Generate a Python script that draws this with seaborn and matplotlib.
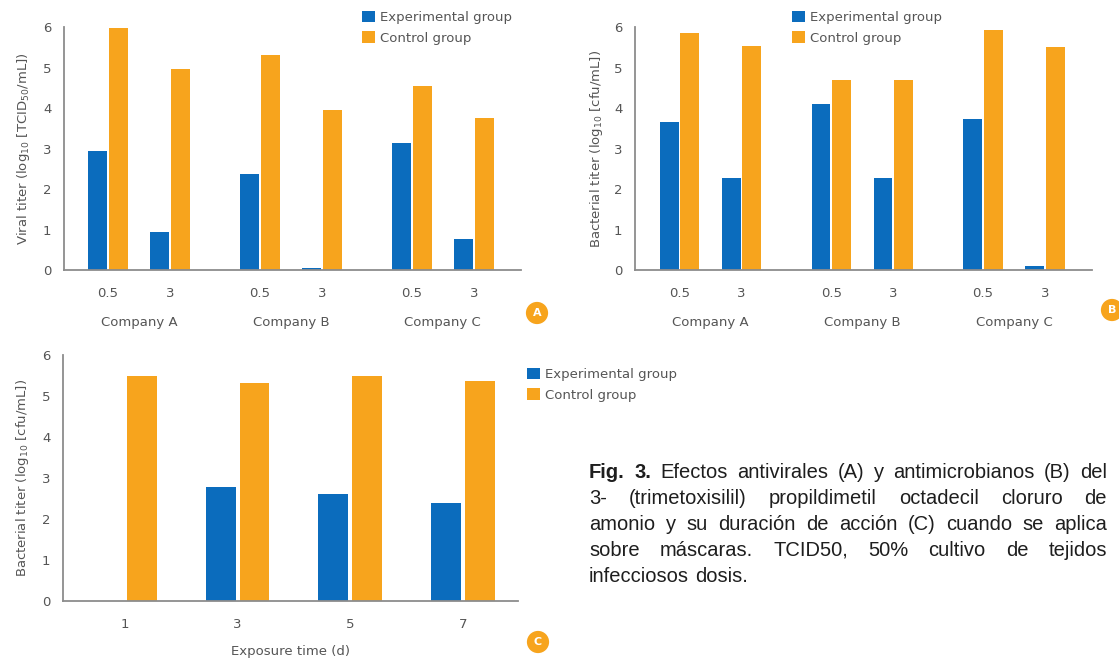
import numpy as np
import pandas as pd
import matplotlib
matplotlib.use("Agg")
import matplotlib.pyplot as plt
import seaborn as sns

# ---------------- data ----------------
companies = ["Company A", "Company B", "Company C"]
times_ab = ["0.5", "3"]
groups = ["Experimental group", "Control group"]

viral_exp = [2.93, 0.93, 2.36, 0.04, 3.14, 0.76]
viral_ctrl = [5.98, 4.97, 5.32, 3.94, 4.54, 3.76]

bact_exp = [3.66, 2.28, 4.09, 2.28, 3.72, 0.10]
bact_ctrl = [5.85, 5.52, 4.70, 4.68, 5.93, 5.50]

days = ["1", "3", "5", "7"]
dur_exp = [0.0, 2.78, 2.60, 2.40]
dur_ctrl = [5.50, 5.32, 5.50, 5.37]

ylabel_a = "Viral titer (log$_{10}$ [TCID$_{50}$/mL])"
ylabel_bc = "Bacterial titer (log$_{10}$ [cfu/mL])"
xlabel_c = "Exposure time (d)"

caption_lines = [
    "Fig. 3. Efectos antivirales (A) y antimicrobianos (B) del",
    "3- (trimetoxisilil) propildimetil octadecil cloruro de",
    "amonio y su duración de acción (C) cuando se aplica",
    "sobre máscaras. TCID50, 50% cultivo de tejidos",
    "infecciosos dosis.",
]

# ---------------- style ----------------
BLUE = "#0b6cbd"
ORANGE = "#f7a41d"
TXT = "#555555"
SPINE = "#8c8c8c"

sns.set_style("white")
plt.rcParams["font.family"] = ["DejaVu Sans"]
plt.rcParams["mathtext.fontset"] = "dejavusans"

W, H = 1119, 660
fig = plt.figure(figsize=(W / 100, H / 100), dpi=100)

def px_axes(left, top, right, bottom):
    return fig.add_axes([left / W, 1 - bottom / H, (right - left) / W, (bottom - top) / H])

GSTEP = 2.45  # spacing between company groups (layout)
FS = 9.5

def company_frame(exp, ctrl):
    rows = []
    for gi, comp in enumerate(companies):
        for si, t in enumerate(times_ab):
            k = gi * len(times_ab) + si
            pos = gi * GSTEP + si
            rows.append(dict(pos=pos, time=t, company=comp, group=groups[0], value=exp[k]))
            rows.append(dict(pos=pos, time=t, company=comp, group=groups[1], value=ctrl[k]))
    return pd.DataFrame(rows)

def style_axes(ax):
    sns.despine(ax=ax)
    for s in ("left", "bottom"):
        ax.spines[s].set_color(SPINE)
        ax.spines[s].set_linewidth(1.3)
    ax.set_ylim(0, 6)
    ax.set_yticks(range(0, 7))
    ax.tick_params(axis="y", direction="in", length=4, width=1, color=SPINE,
                   labelsize=FS, labelcolor=TXT, pad=9)
    ax.tick_params(axis="x", which="major", length=0, labelsize=FS, labelcolor=TXT, pad=12)
    ax.tick_params(axis="x", which="minor", direction="in", length=4, width=1, color=SPINE)

def add_legend(ax, fx, fy):
    h, l = ax.get_legend_handles_labels()
    leg = ax.legend(h, l, loc="upper left", bbox_to_anchor=(fx / W, 1 - fy / H),
                    bbox_transform=fig.transFigure, frameon=False, fontsize=FS,
                    handlelength=0.95, handleheight=0.95, handletextpad=0.45,
                    labelspacing=0.55, borderpad=0, borderaxespad=0)
    for t in leg.get_texts():
        t.set_color(TXT)

def badge(x, y, letter):
    fig.text(x / W, 1 - y / H, letter, color="white", fontsize=8, fontweight="bold",
             ha="center", va="center",
             bbox=dict(boxstyle="circle,pad=0.55", fc=ORANGE, ec="none"))

def company_panel(ax, exp, ctrl, ylabel, xlim, leg_xy, lab_x):
    df = company_frame(exp, ctrl)
    sns.barplot(data=df, x="pos", y="value", hue="group", hue_order=groups,
                palette=[BLUE, ORANGE], saturation=1, native_scale=True, width=0.66,
                gap=0.08, linewidth=0, errorbar=None, ax=ax)
    style_axes(ax)
    pos = sorted(df["pos"].unique())
    ax.set_xticks(pos)
    ax.set_xticklabels([t for _ in companies for t in times_ab])
    mids = [(pos[2 * i + 1] + pos[2 * i + 2]) / 2 for i in range(len(companies) - 1)]
    ax.set_xticks(mids + [xlim[1]], minor=True)
    ax.set_xlim(*xlim)
    ax.set_xlabel("")
    ax.set_ylabel(ylabel, fontsize=FS, color=TXT)
    ax.yaxis.set_label_coords(lab_x, 0.5)
    for gi, comp in enumerate(companies):
        cx = (pos[2 * gi] + pos[2 * gi + 1]) / 2
        ax.annotate(comp, xy=(cx, 0), xycoords=("data", "axes fraction"),
                    xytext=(0, -37.5), textcoords="offset points",
                    ha="center", va="center", fontsize=FS, color=TXT)
    add_legend(ax, *leg_xy)

# Panel A
axA = px_axes(64, 27, 521, 270)
company_panel(axA, viral_exp, viral_ctrl, ylabel_a, (-0.71, 6.66), (362, 11), -0.07)
# Panel B
axB = px_axes(635, 27, 1092, 270)
company_panel(axB, bact_exp, bact_ctrl, ylabel_bc, (-0.72, 6.66), (792, 11), -0.066)

# Panel C
axC = px_axes(63, 355, 518, 601)
dfc = pd.DataFrame({
    "day": days * 2,
    "group": [groups[0]] * len(days) + [groups[1]] * len(days),
    "value": dur_exp + dur_ctrl,
})
sns.barplot(data=dfc, x="day", y="value", hue="group", hue_order=groups, order=days,
            palette=[BLUE, ORANGE], saturation=1, width=0.6, gap=0.12, linewidth=0,
            errorbar=None, ax=axC)
style_axes(axC)
axC.set_xlim(-0.55, 3.49)
axC.set_xticks([i + 0.5 for i in range(len(days) - 1)] + [3.49], minor=True)
axC.set_ylabel(ylabel_bc, fontsize=FS, color=TXT)
axC.yaxis.set_label_coords(-0.07, 0.5)
axC.set_xlabel(xlabel_c, fontsize=FS, color=TXT)
axC.xaxis.set_label_coords(0.5, -0.18)
add_legend(axC, 527, 368)

# Badges
badge(537, 313, "A")
badge(1112, 310, "B")
badge(538, 642, "C")

# Caption (justified)
renderer = fig.canvas.get_renderer()
x0, x1 = 589, 1107
y_first, dy = 473, 25.8
CFS = 14.5
for i, line in enumerate(caption_lines):
    y = 1 - (y_first + i * dy) / H
    words = line.split(" ")
    texts = []
    for j, w in enumerate(words):
        bold = (i == 0 and j < 2)
        t = fig.text(0, y, w, fontsize=CFS, color="#1e1e1e", va="center", ha="left",
                     family=["Liberation Sans", "DejaVu Sans"],
                     fontweight="bold" if bold else "normal")
        texts.append(t)
    widths = [t.get_window_extent(renderer).width for t in texts]
    sp = fig.text(0, 0, "a b", fontsize=CFS, family=["Liberation Sans"])
    sa = fig.text(0, 0, "ab", fontsize=CFS, family=["Liberation Sans"])
    space = sp.get_window_extent(renderer).width - sa.get_window_extent(renderer).width
    sp.remove(); sa.remove()
    if i < len(caption_lines) - 1:
        gap = max((x1 - x0 - sum(widths)) / (len(words) - 1), space * 0.8)
    else:
        gap = space
    x = x0
    for t, w in zip(texts, widths):
        t.set_x(x / W)
        x += w + gap

fig.savefig("out.png", dpi=100)
